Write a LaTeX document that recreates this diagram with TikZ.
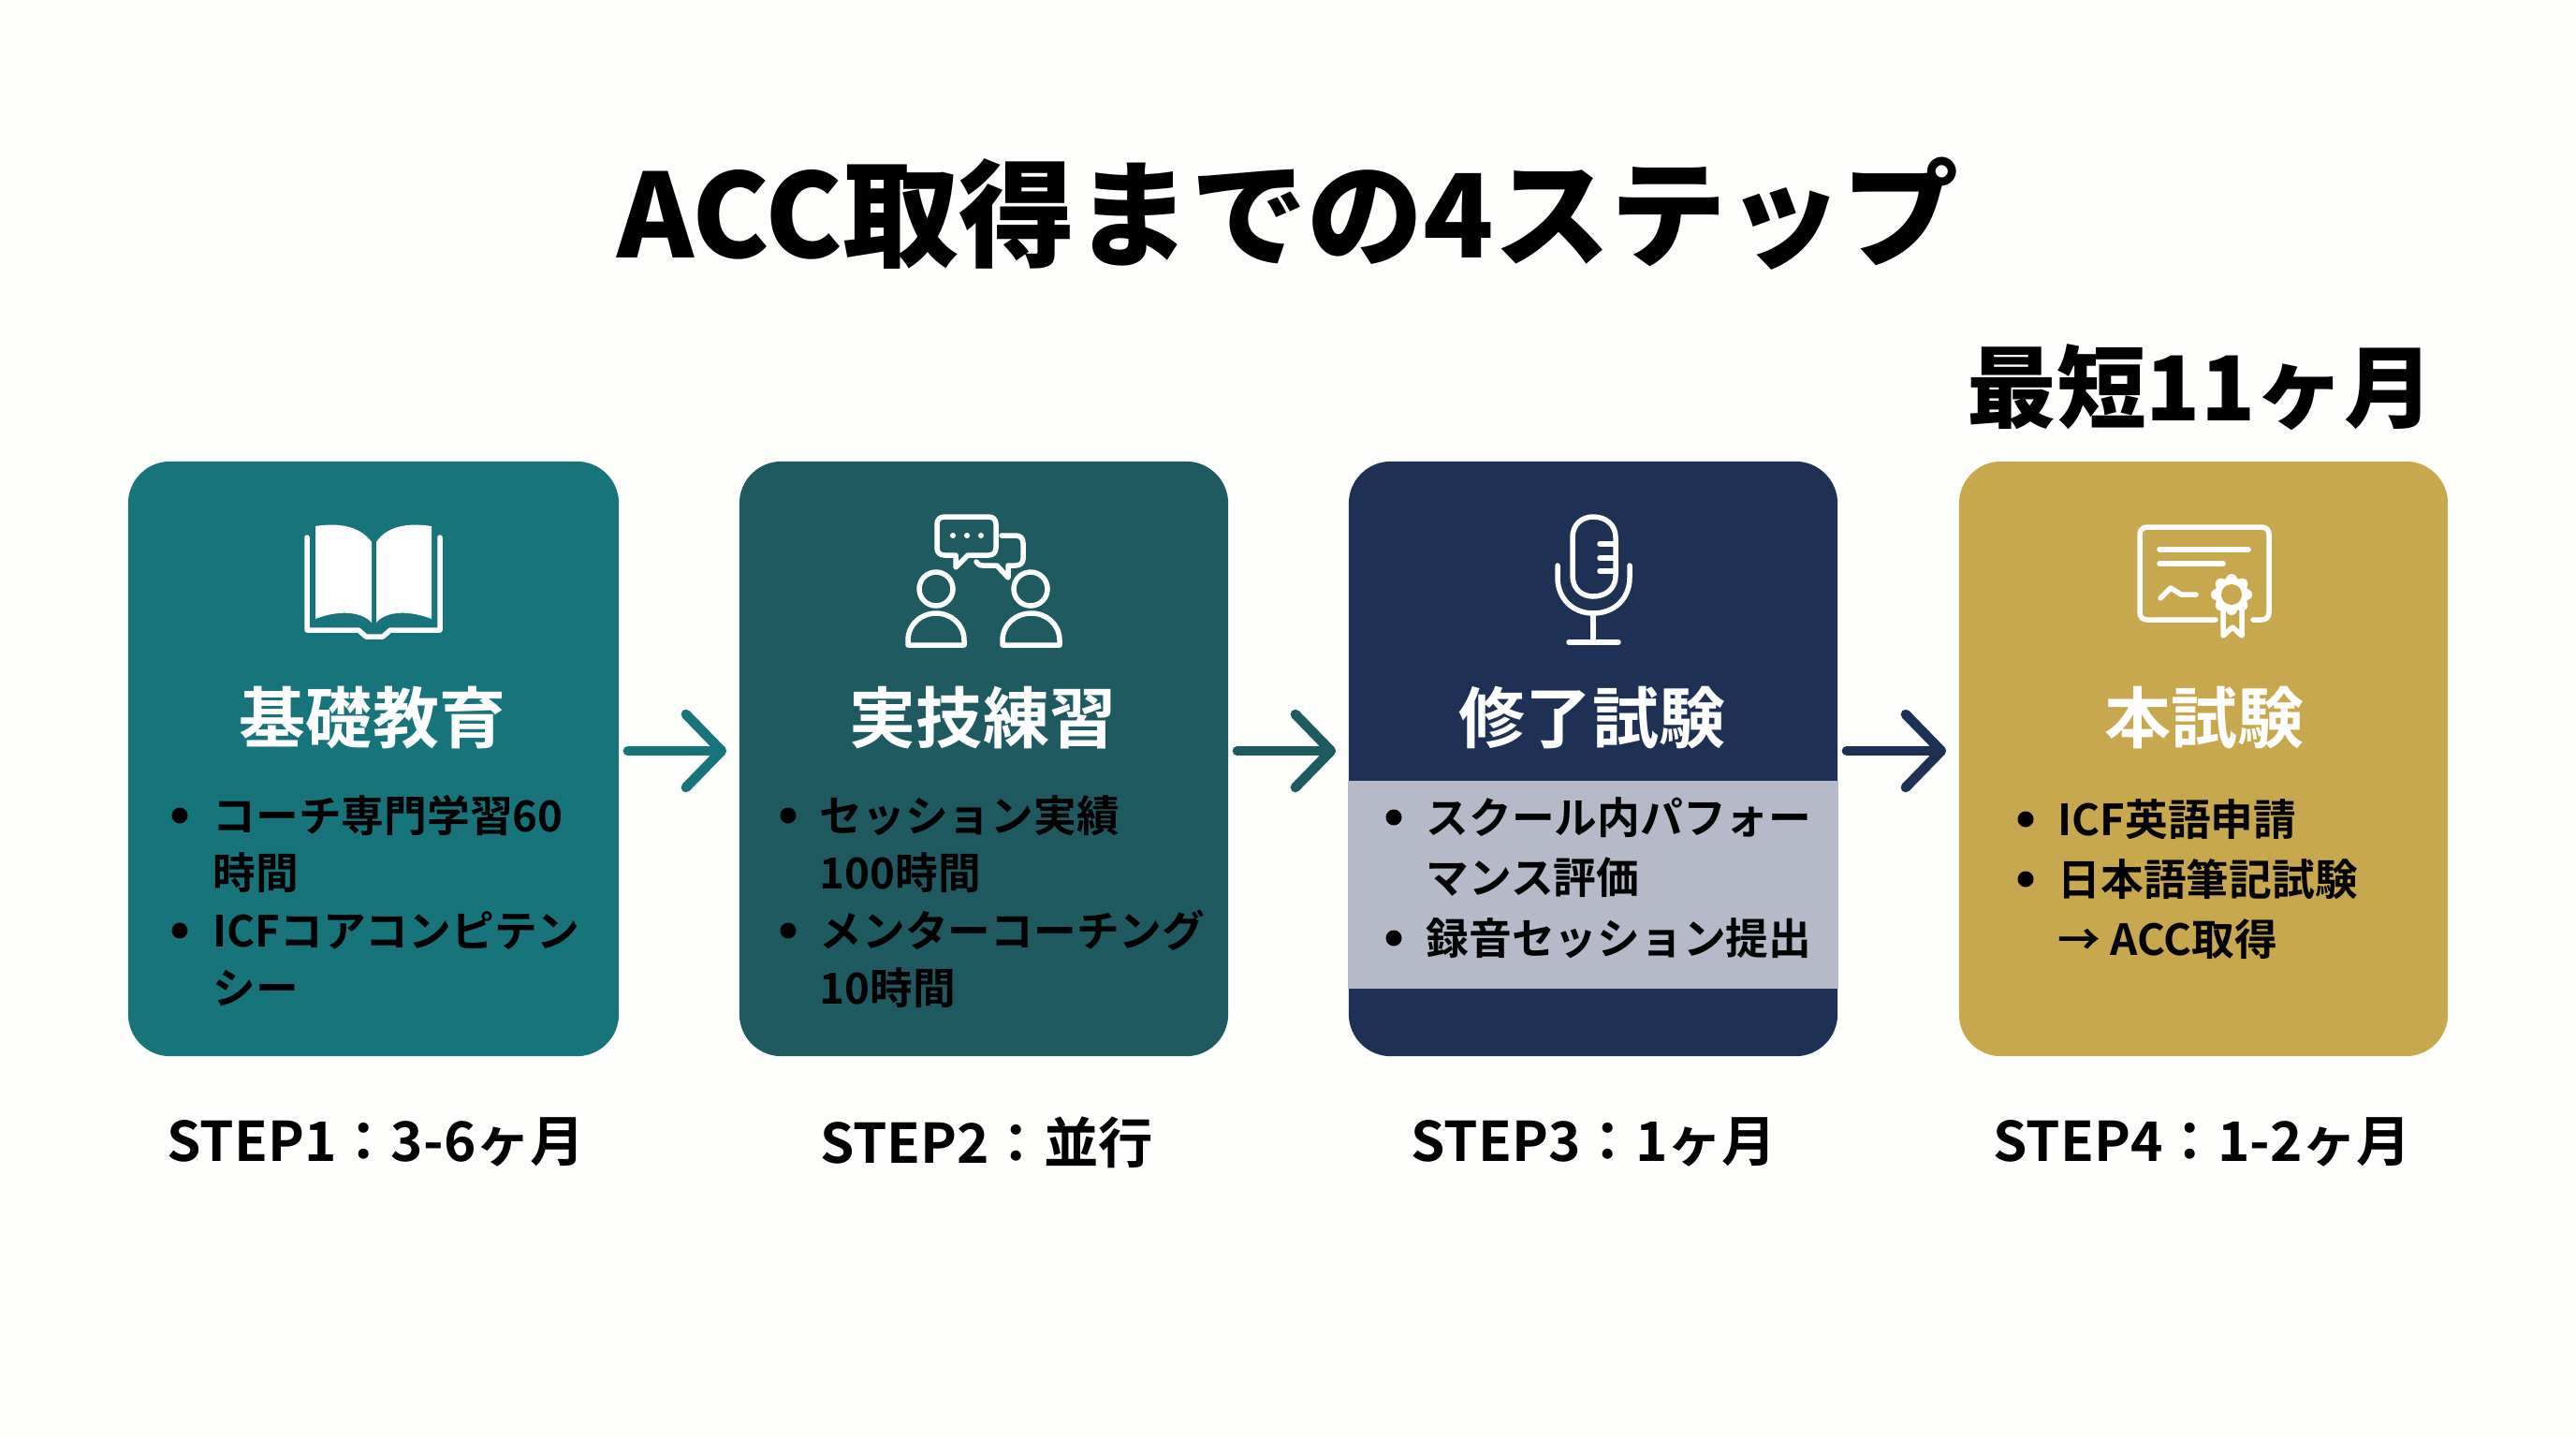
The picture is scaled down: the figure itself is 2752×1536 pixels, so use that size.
\documentclass[tikz,border=0pt]{standalone}
\usepackage{fontspec}
\setmainfont{Noto Sans CJK JP}[BoldFont=* Bold]
\newfontfamily\heavyfont{Noto Sans CJK JP Black}
\usetikzlibrary{arrows.meta}
\definecolor{pagebg}{HTML}{FEFEFC}
\definecolor{stepteal}{HTML}{17747A}
\definecolor{stepdeep}{HTML}{1F5A60}
\definecolor{stepnavy}{HTML}{1E3054}
\definecolor{stepgold}{HTML}{C8A84F}
\definecolor{stepband}{HTML}{B6BAC8}
\tikzset{
  card/.style={rounded corners=0.45cm,minimum width=5.22cm,minimum height=6.35cm,inner sep=0pt},
  heading/.style={text=white,inner sep=0pt,font=\bfseries\fontsize{20.2}{24}\selectfont},
  bodyline/.style={anchor=west,inner sep=0pt,text height=0.405cm,text depth=0.05cm,font=\bfseries\fontsize{13}{16}\selectfont},
  bull/.style={circle,fill=black,inner sep=0pt,minimum size=0.17cm},
  steplabel/.style={inner sep=0pt,font=\bfseries\fontsize{16.6}{20}\selectfont},
  flow/.style={line width=0.105cm,line cap=round,shorten <=0.09cm,shorten >=0.13cm,
    -{Straight Barb[length=0.38cm,width=0.78cm,line cap=round,round]}},
  iconline/.style={draw=white,line width=0.055cm,line cap=round,line join=round}
}
\begin{document}
\begin{tikzpicture}[x=0.01cm,y=-0.01cm]
\useasboundingbox (0,0) rectangle (2752,1536);
\fill[pagebg] (0,0) rectangle (2752,1536);

\node[inner sep=0pt,font=\heavyfont\fontsize{35.3}{40}\selectfont] (title) at (1376,228) {ACC取得までの4ステップ};
\node[inner sep=0pt,font=\heavyfont\fontsize{27.2}{32}\selectfont] (total) at (2351,414) {最短11ヶ月};

% cards
\node[card,minimum width=5.24cm,fill=stepteal] (s1) at (399,810.5) {};
\node[card,fill=stepdeep] (s2) at (1051,810.5) {};
\node[card,fill=stepnavy] (s3) at (1702,810.5) {};
\node[card,fill=stepgold] (s4) at (2354,810.5) {};
\fill[stepband] (s3.west |- 0,834) rectangle (s3.east |- 0,1056);

% arrows
\draw[flow,draw=stepteal] ([yshift=0.085cm]s1.east) -- ([yshift=0.085cm]s2.west);
\draw[flow,draw=stepdeep] ([yshift=0.085cm]s2.east) -- ([yshift=0.085cm]s3.west);
\draw[flow,draw=stepnavy] ([yshift=0.085cm]s3.east) -- ([yshift=0.085cm]s4.west);

% book
\fill[white] (337,562) .. controls (362,558) and (385,562) .. (397,579) -- (397,665) .. controls (385,652) and (360,652) .. (337,661) -- cycle;
\fill[white] (461,562) .. controls (436,558) and (413,562) .. (402,579) -- (402,665) .. controls (413,652) and (438,652) .. (461,661) -- cycle;
\draw[iconline] (328,574) -- (328,673) -- (383,673) -- (391,680) -- (409,680) -- (417,673) -- (470,673) -- (470,574);

% people talking
\draw[iconline] (1009,552) -- (1056,552) .. controls (1061,552) and (1064,555) .. (1064,560) -- (1064,585) .. controls (1064,590) and (1061,593) .. (1056,593) -- (1034,593) -- (1021,606) -- (1021,593) -- (1009,593) .. controls (1004,593) and (1001,590) .. (1001,585) -- (1001,560) .. controls (1001,555) and (1004,552) .. (1009,552) -- cycle;
\fill[white] (1018,572) circle (3) (1033,572) circle (3) (1048,572) circle (3);
\draw[iconline] (1070,572) -- (1085,572) .. controls (1090,572) and (1093,575) .. (1093,580) -- (1093,597) .. controls (1093,601) and (1090,604) .. (1085,604) -- (1077,604) -- (1077,617) -- (1065,604) -- (1050,604) .. controls (1046,604) and (1044,602) .. (1043,600);
\draw[iconline] (1000,629) circle (18);
\draw[iconline] (1101,629) circle (18);
\draw[iconline] (970,689) -- (970,684) .. controls (970,667) and (984,655) .. (1000,655) .. controls (1016,655) and (1030,667) .. (1030,684) -- (1030,689) -- cycle;
\draw[iconline] (1071,689) -- (1071,684) .. controls (1071,667) and (1085,655) .. (1102,655) .. controls (1118,655) and (1132,667) .. (1132,684) -- (1132,689) -- cycle;

% microphone
\draw[iconline] (1680,574) .. controls (1680,560) and (1690,552) .. (1702,552) .. controls (1715,552) and (1726,560) .. (1726,574) -- (1726,615) .. controls (1726,629) and (1715,637) .. (1702,637) .. controls (1690,637) and (1680,629) .. (1680,615) -- cycle;
\draw[iconline] (1709,581) -- (1726,581) (1709,596) -- (1726,596) (1709,610) -- (1726,610);
\draw[iconline] (1664,604) -- (1664,617) .. controls (1664,639) and (1680,655) .. (1702,655) .. controls (1725,655) and (1741,639) .. (1741,617) -- (1741,604);
\draw[iconline] (1702,655) -- (1702,686) (1676,686) -- (1729,686);

% certificate
\draw[iconline] (2367,662) -- (2294,662) .. controls (2289,662) and (2286,659) .. (2286,654) -- (2286,571) .. controls (2286,566) and (2289,563) .. (2294,563) -- (2416,563) .. controls (2421,563) and (2424,566) .. (2424,571) -- (2424,654) .. controls (2424,659) and (2421,662) .. (2416,662) -- (2407,662);
\draw[iconline] (2307,587) -- (2402,587) (2307,602) -- (2375,602);
\draw[iconline] (2308,639) -- (2319,628) -- (2330,635) -- (2346,635);
\draw[iconline] (2375,650) -- (2375,679) -- (2385,670) -- (2395,679) -- (2395,650);
\foreach \a in {0,45,...,315} {
  \fill[white] (2384,635) ++(\a:16) circle (6);
}
\fill[white] (2384,635) circle (18);
\fill[stepgold] (2384,635) circle (11);

% headings
\node[heading] (h1) at (398,767) {基礎教育};
\node[heading] (h2) at (1050,767) {実技練習};
\node[heading] (h3) at (1701,767) {修了試験};
\node[heading] (h4) at (2355,767) {本試験};

% card 1
\node[bull] (b1a) at (192,871) {};
\node[bodyline] (t1a) at (227,871) {コーチ専門学習60};
\node[bodyline] (t1b) at (227,932) {時間};
\node[bull] (b1b) at (192,994) {};
\node[bodyline] (t1c) at (227,994) {ICFコアコンピテン};
\node[bodyline] (t1d) at (227,1055) {シー};

% card 2
\node[bull] (b2a) at (842,871) {};
\node[bodyline] (t2a) at (875,871) {セッション実績};
\node[bodyline] (t2b) at (875,932) {100時間};
\node[bull] (b2b) at (842,994) {};
\node[bodyline] (t2c) at (875,994) {メンターコーチング};
\node[bodyline] (t2d) at (875,1055) {10時間};

% card 3
\node[bull] (b3a) at (1489,873) {};
\node[bodyline] (t3a) at (1523,873) {スクール内パフォー};
\node[bodyline] (t3b) at (1523,937) {マンス評価};
\node[bull] (b3b) at (1489,1002) {};
\node[bodyline] (t3c) at (1523,1002) {録音セッション提出};

% card 4
\node[bull] (b4a) at (2164,875) {};
\node[bodyline] (t4a) at (2198,875) {ICF英語申請};
\node[bull] (b4b) at (2164,939) {};
\node[bodyline] (t4b) at (2198,939) {日本語筆記試験};
\node[bodyline] (t4c) at (2198,1003) {→ ACC取得};

% labels below
\node[steplabel] (l1) at (402,1220) {STEP1：3-6ヶ月};
\node[steplabel] (l2) at (1054,1220) {STEP2：並行};
\node[steplabel] (l3) at (1703,1220) {STEP3：1ヶ月};
\node[steplabel] (l4) at (2353,1220) {STEP4：1-2ヶ月};
\end{tikzpicture}
\end{document}
